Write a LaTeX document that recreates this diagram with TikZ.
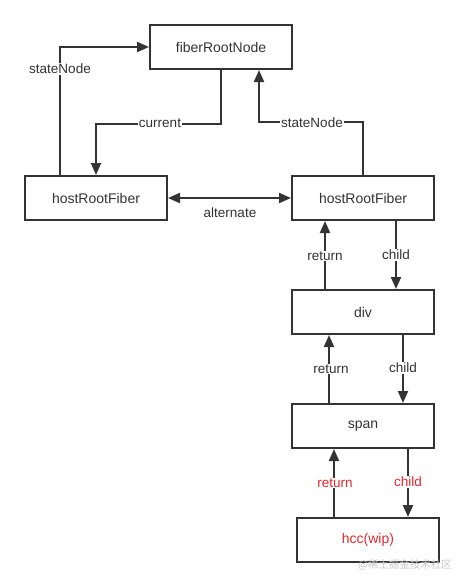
\documentclass[tikz,border=0pt]{standalone}
\usepackage{fontspec}
\setmainfont{Liberation Sans}
\newfontfamily\cjk{Noto Sans CJK SC}
\usetikzlibrary{arrows.meta}
\definecolor{ink}{HTML}{333333}
\definecolor{hot}{HTML}{E8262B}
\begin{document}
\begin{tikzpicture}[x=1pt,y=-1pt,
  box/.style={draw=ink,line width=2pt,minimum width=142pt,minimum height=44pt,inner sep=0pt,font=\fontsize{14}{16}\selectfont,text=ink},
  arr/.style={draw=ink,line width=2pt,-{Triangle[length=12pt,width=10pt]}},
  darr/.style={draw=ink,line width=2pt,{Triangle[length=12pt,width=10pt]}-{Triangle[length=12pt,width=10pt]}},
  lbl/.style={fill=white,inner sep=1pt,font=\fontsize{13.5}{15}\selectfont,text=ink},
  rlbl/.style={lbl,text=hot}]
\useasboundingbox (0,0) rectangle (464,587);
\node[box] (frn) at (221,47) {fiberRootNode};
\node[box] (h1) at (96,198) {hostRootFiber};
\node[box] (h2) at (363,198) {hostRootFiber};
\node[box] (div) at (363,312) {div};
\node[box] (span) at (363,426) {span};
\node[box,text=hot] (hcc) at (368,540) {hcc(wip)};
% top connectors
\draw[arr] ([xshift=-36pt]h1.north) |- (frn.west);
\draw[arr] (frn.south) -- ++(0,54) -| (h1.north);
\draw[arr] (h2.north) -- ++(0,-53) -| ([xshift=38pt]frn.south);
\draw[darr] (h1.east) -- (h2.west);
% lower connectors
\draw[arr] (div.north -| 325,0) -- (h2.south -| 325,0);
\draw[arr] (h2.south -| 396,0) -- (div.north -| 396,0);
\draw[arr] (span.north -| 329,0) -- (div.south -| 329,0);
\draw[arr] (div.south -| 403,0) -- (span.north -| 403,0);
\draw[arr] (hcc.north -| 334,0) -- (span.south -| 334,0);
\draw[arr] (span.south -| 408,0) -- (hcc.north -| 408,0);
% labels
\node[lbl] (l1) at (60,69) {stateNode};
\node[lbl] (l2) at (160,123) {current};
\node[lbl] (l3) at (312,123) {stateNode};
\node[lbl] (l4) at (230,213) {alternate};
\node[lbl] (l5) at (325,256) {return};
\node[lbl] (l6) at (396,255) {child};
\node[lbl] (l7) at (331,369) {return};
\node[lbl] (l8) at (403,368) {child};
\node[rlbl] (l9) at (335,483) {return};
\node[rlbl] (l10) at (408,482) {child};
\node[text=gray!45,font=\cjk\fontsize{10.5}{12}\selectfont,inner sep=0pt] (wm) at (405,565) {@稀土掘金技术社区};
\end{tikzpicture}
\end{document}
